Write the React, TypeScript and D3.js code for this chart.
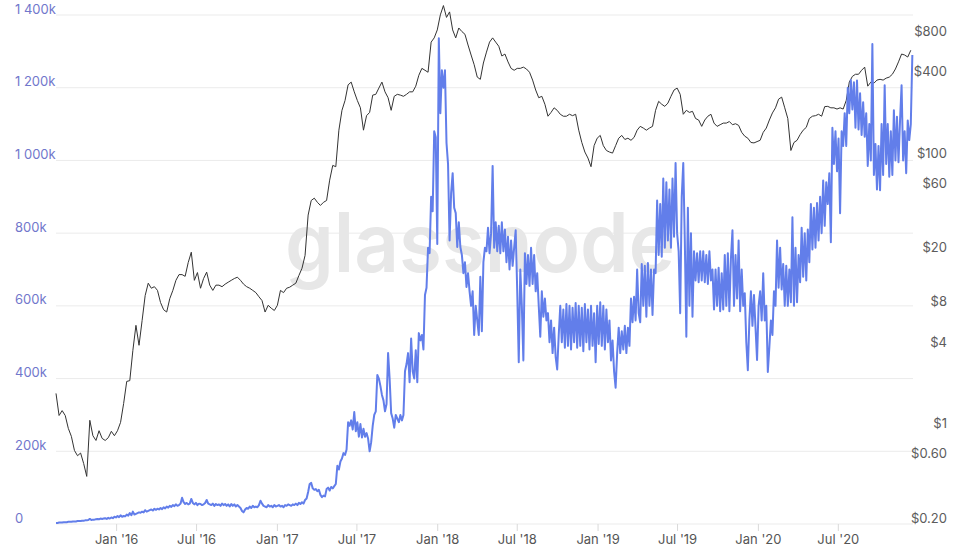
import React, { useEffect, useRef } from 'react';
import * as d3 from 'd3';

// sampled by eye from the reference, one value per step
const seriesStart = '2015-08-16';
const seriesEnd = '2020-12-18';
const txStepDays = 3.5;
const priceStepDays = 7;

// daily transactions, in thousands (two readings a week: weekday top, weekend dip)
const txCounts = [
  3, 3, 4, 4, 4, 5, 5, 5, 6, 6,
  6, 7, 7, 7, 8, 8, 8, 9, 9, 10,
  10, 11, 14, 11, 12, 12, 13, 14, 13, 15,
  14, 15, 16, 14, 17, 15, 18, 16, 20, 18,
  22, 19, 24, 20, 22, 21, 26, 23, 30, 24,
  34, 26, 28, 30, 32, 31, 34, 32, 38, 34,
  36, 38, 40, 37, 42, 39, 42, 40, 44, 41,
  46, 43, 48, 45, 50, 47, 52, 49, 54, 50,
  52, 56, 72, 60, 55, 58, 54, 56, 69, 58,
  54, 58, 52, 56, 55, 52, 54, 58, 66, 56,
  54, 52, 56, 50, 55, 52, 54, 50, 56, 52,
  55, 50, 54, 48, 55, 50, 54, 48, 52, 48,
  44, 36, 32, 40, 44, 42, 48, 44, 50, 46,
  48, 46, 52, 64, 56, 50, 48, 46, 52, 48,
  50, 46, 52, 48, 50, 52, 48, 50, 46, 52,
  50, 54, 52, 50, 54, 52, 56, 52, 58, 55,
  60, 56, 66, 70, 88, 110, 113, 98, 94, 96,
  90, 94, 80, 74, 78, 76, 96, 100, 92, 102,
  98, 104, 110, 160, 150, 172, 180, 195, 190, 205,
  280, 270, 285, 260, 308, 255, 280, 240, 275, 238,
  262, 240, 250, 235, 200, 225, 270, 300, 310, 410,
  400, 380, 355, 340, 310, 330, 470, 400, 305, 290,
  265, 300, 290, 280, 300, 285, 300, 420, 440, 470,
  390, 510, 420, 400, 478, 390, 525, 505, 520, 480,
  630, 650, 760, 745, 900, 860, 1080, 1064, 770, 1336,
  1130, 1248, 1200, 1248, 1048, 990, 780, 910, 965, 870,
  855, 762, 830, 762, 740, 690, 720, 652, 690, 640,
  600, 640, 520, 600, 560, 520, 680, 530, 720, 760,
  750, 815, 745, 800, 985, 760, 830, 750, 820, 745,
  830, 750, 810, 720, 790, 700, 780, 710, 760, 808,
  640, 445, 700, 600, 450, 745, 660, 740, 655, 760,
  660, 740, 640, 690, 600, 515, 640, 570, 620, 560,
  580, 500, 560, 470, 540, 460, 425, 520, 600, 500,
  590, 485, 605, 490, 600, 480, 595, 500, 608, 485,
  600, 490, 595, 475, 605, 500, 590, 480, 600, 490,
  580, 445, 600, 495, 610, 490, 600, 480, 590, 500,
  560, 450, 505, 420, 375, 470, 540, 470, 530, 480,
  545, 470, 540, 490, 620, 555, 625, 560, 700, 580,
  555, 715, 600, 710, 570, 718, 600, 700, 575, 700,
  690, 890, 740, 880, 735, 950, 760, 940, 780, 920,
  760, 950, 790, 993, 800, 750, 580, 900, 993, 780,
  515, 870, 600, 800, 570, 750, 670, 745, 665, 750,
  670, 750, 665, 740, 660, 750, 670, 700, 590, 700,
  600, 705, 585, 690, 590, 740, 600, 745, 585, 730,
  808, 600, 740, 620, 780, 585, 700, 600, 635, 500,
  423, 560, 640, 545, 630, 540, 451, 600, 640, 560,
  690, 560, 600, 418, 487, 560, 520, 640, 600, 780,
  650, 760, 645, 715, 600, 710, 600, 700, 610, 844,
  600, 760, 610, 740, 665, 815, 680, 800, 670, 810,
  720, 880, 755, 870, 760, 883, 780, 900, 800, 945,
  820, 940, 880, 965, 775, 1090, 990, 1080, 970, 1060,
  855, 1080, 1040, 1130, 1040, 1200, 1130, 1221, 1140, 1215,
  1090, 1220, 1085, 1185, 1070, 1160, 1065, 1130, 985, 1100,
  1000, 1320, 960, 1045, 920, 1040, 918, 1100, 960, 1207,
  990, 1100, 955, 1080, 960, 1138, 1000, 1120, 995, 1110,
  1207, 1000, 1080, 965, 1110, 1056, 1100, 1290,
];

// price, USD (weekly)
const prices = [
  1.85, 1.27, 1.38, 1.27, 1.02, 0.89, 0.7, 0.64, 0.67, 0.56,
  0.45, 1.17, 0.9, 0.83, 0.98, 0.86, 0.83, 0.87, 0.97, 0.9,
  0.98, 1.13, 1.56, 2.27, 2.3, 3.85, 5.9, 4.2, 6.4, 9.8,
  12.1, 11.1, 11.4, 10.7, 8.7, 7.7, 7.4, 9.3, 10.7, 12.7,
  14.0, 14.0, 13.6, 17.2, 20.5, 12.7, 14.5, 11.1, 13.1, 14.6,
  11.7, 10.7, 11.7, 11.7, 11.4, 11.9, 12.3, 12.7, 13.1, 13.4,
  12.7, 11.9, 11.4, 11.1, 10.7, 10.3, 9.6, 9.0, 7.4, 8.3,
  7.9, 7.6, 8.3, 10.7, 10.3, 11.1, 11.3, 11.7, 12.1, 13.8,
  15.6, 19.4, 38.6, 49.5, 51.5, 48, 45.5, 48, 49.5, 70,
  90, 88, 164, 230, 272, 355, 372, 315, 272, 240,
  164, 210, 222, 298, 302, 336, 372, 315, 285, 230,
  292, 302, 298, 292, 302, 315, 315, 347, 418, 470,
  455, 440, 735, 790, 905, 1170, 1370, 1120, 1230, 905,
  790, 935, 880, 840, 700, 590, 500, 405, 390, 515,
  620, 735, 790, 735, 685, 580, 600, 525, 470, 455,
  470, 470, 480, 465, 440, 385, 325, 285, 292, 255,
  208, 222, 240, 230, 215, 208, 208, 215, 210, 215,
  164, 133, 113, 102, 88, 126, 143, 150, 126, 116,
  113, 111, 126, 143, 150, 140, 143, 138, 145, 164,
  175, 170, 164, 170, 175, 230, 268, 255, 246, 260,
  292, 325, 336, 302, 215, 230, 222, 226, 200, 195,
  175, 195, 208, 215, 185, 175, 180, 185, 185, 190,
  180, 183, 178, 158, 148, 143, 133, 132, 135, 138,
  158, 170, 195, 220, 240, 278, 288, 240, 200, 116,
  133, 138, 152, 164, 172, 200, 208, 210, 215, 208,
  245, 246, 240, 240, 235, 240, 235, 272, 372, 410,
  425, 425, 455, 480, 347, 372, 365, 385, 390, 385,
  398, 405, 425, 465, 525, 600, 590, 570, 640,
];

const txTicks = [0, 200, 400, 600, 800, 1000, 1200, 1400];
const priceTicks = [0.2, 0.6, 1, 4, 8, 20, 60, 100, 400, 800];
const priceTickLabels = ['$0.20', '$0.60', '$1', '$4', '$8', '$20', '$60', '$100', '$400', '$800'];

const FONT = 'Inter, "Noto Sans", sans-serif';
const DAY = 86400000;

export const TxPriceChart: React.FC = () => {
  const svgRef = useRef<SVGSVGElement>(null);

  useEffect(() => {
    if (!svgRef.current) return;

    const svg = d3.select(svgRef.current);
    svg.selectAll('*').remove();

    const left = 56;
    const right = 913;
    const bottom = 524;

    const parse = d3.utcParse('%Y-%m-%d');
    const start = parse(seriesStart)!;
    const end = parse(seriesEnd)!;

    const x = d3.scaleUtc().domain([start, end]).range([left, right]);
    const yTx = d3.scaleLinear().domain([0, 1400]).range([bottom, 15]);
    const yPrice = d3.scaleLog().domain([0.2, 1400]).range([bottom, 4.3]);

    const dayAt = (i: number, step: number) => new Date(start.getTime() + i * step * DAY);

    // grid
    svg.append('g')
      .selectAll('line')
      .data(txTicks)
      .enter()
      .append('line')
      .attr('x1', left)
      .attr('x2', right)
      .attr('y1', d => yTx(d))
      .attr('y2', d => yTx(d))
      .attr('stroke', '#ebebeb')
      .attr('stroke-width', 1);

    // watermark
    svg.append('text')
      .attr('x', 285)
      .attr('y', 272)
      .attr('textLength', 390)
      .attr('lengthAdjust', 'spacingAndGlyphs')
      .attr('font-family', FONT)
      .attr('font-size', 82)
      .attr('font-weight', 600)
      .attr('fill', '#e7e7e7')
      .text('glassnode');

    // left axis labels
    const fmt = d3.format(',');
    svg.append('g')
      .selectAll('text')
      .data(txTicks)
      .enter()
      .append('text')
      .attr('x', 15)
      .attr('y', d => yTx(d) - 1.5)
      .attr('font-family', FONT)
      .attr('font-size', 13)
      .attr('fill', '#7177cc')
      .text(d => (d === 0 ? '0' : `${fmt(d).replace(',', ' ')}k`));

    // right axis labels
    svg.append('g')
      .selectAll('text')
      .data(priceTicks)
      .enter()
      .append('text')
      .attr('x', 947)
      .attr('y', d => yPrice(d) - 1.5)
      .attr('text-anchor', 'end')
      .attr('font-family', FONT)
      .attr('font-size', 13)
      .attr('fill', '#5c5c5c')
      .text((_, i) => priceTickLabels[i]);

    // x axis
    const xTicks = x.ticks(d3.utcMonth.every(6)!);
    const xAxis = svg.append('g');
    xAxis.selectAll('line')
      .data(xTicks)
      .enter()
      .append('line')
      .attr('x1', d => x(d))
      .attr('x2', d => x(d))
      .attr('y1', bottom)
      .attr('y2', bottom + 7)
      .attr('stroke', '#d9d9d9');
    xAxis.selectAll('text')
      .data(xTicks)
      .enter()
      .append('text')
      .attr('x', d => x(d))
      .attr('y', 544)
      .attr('text-anchor', 'middle')
      .attr('font-family', FONT)
      .attr('font-size', 13)
      .attr('fill', '#555')
      .text(d => d3.utcFormat("%b '%y")(d));

    // price line
    const priceLine = d3.line<number>()
      .x((_, i) => x(dayAt(i, priceStepDays)))
      .y(d => yPrice(d));

    svg.append('path')
      .datum(prices)
      .attr('fill', 'none')
      .attr('stroke', '#333')
      .attr('stroke-width', 1)
      .attr('stroke-linejoin', 'round')
      .attr('d', priceLine);

    // transactions line
    const txLine = d3.line<number>()
      .x((_, i) => x(dayAt(i, txStepDays)))
      .y(d => yTx(d));

    svg.append('path')
      .datum(txCounts)
      .attr('fill', 'none')
      .attr('stroke', '#627eea')
      .attr('stroke-width', 2)
      .attr('stroke-linejoin', 'round')
      .attr('d', txLine);
  }, []);

  return (
    <svg
      ref={svgRef}
      width={968}
      height={550}
      style={{ position: 'absolute', left: 0, top: 0, display: 'block', background: '#fff' }}
    />
  );
};

export default function App() {
  return <TxPriceChart />;
}
